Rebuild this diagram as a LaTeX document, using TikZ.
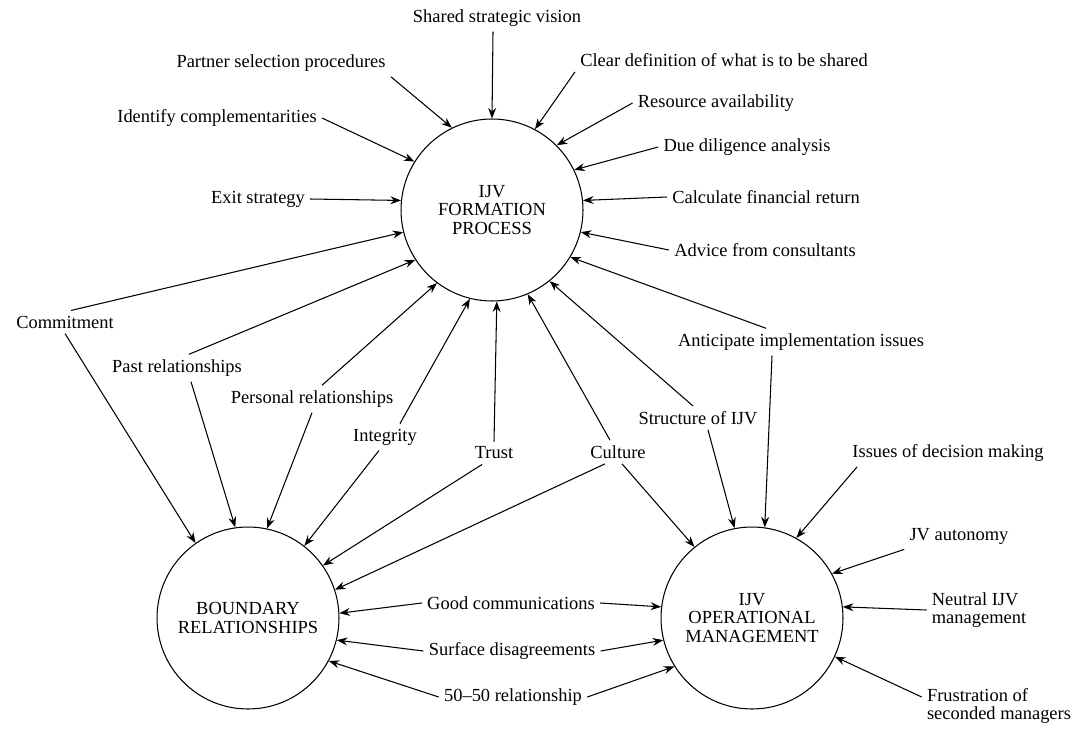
\documentclass[tikz,border=0pt]{standalone}
\usepackage{fontspec}
\setmainfont{Liberation Serif}
\usetikzlibrary{arrows.meta}
\tikzset{
    hub/.style={circle, draw, line width=0.6pt, minimum size=3.64cm, inner sep=0pt, align=center}, % the three circles
    lbl/.style={inner sep=0.1cm, align=left}, % factor labels
    arr/.style={-{Stealth[length=6pt, width=4.5pt]}, line width=0.6pt}
}

\begin{document}
\begin{tikzpicture}[x=0.02cm, y=-0.02cm, font=\fontsize{10.5}{10.6}\selectfont]
    \useasboundingbox (0,0) rectangle (1077,730);

    \node[hub] (F) at (492,210) {IJV\\FORMATION\\PROCESS};
    \node[hub] (B) at (248,618) {BOUNDARY\\RELATIONSHIPS};
    \node[hub] (O) at (752,618) {IJV\\OPERATIONAL\\MANAGEMENT};

    \node[lbl] (ssv) at (497,18) {Shared strategic vision};
    \node[lbl] (psp) at (281,63) {Partner selection procedures};
    \node[lbl] (cdw) at (724,60) {Clear definition of what is to be shared};
    \node[lbl] (ra) at (716,103) {Resource availability};
    \node[lbl] (dda) at (747,147) {Due diligence analysis};
    \node[lbl] (cfr) at (766,197) {Calculate financial return};
    \node[lbl] (afc) at (765,250) {Advice from consultants};
    \node[lbl] (aii) at (801,342) {Anticipate implementation issues};
    \node[lbl] (ic) at (217,118) {Identify complementarities};
    \node[lbl] (es) at (258,199) {Exit strategy};
    \node[lbl] (com) at (65,322) {Commitment};
    \node[lbl] (past) at (177,368) {Past relationships};
    \node[lbl] (pers) at (312,399) {Personal relationships};
    \node[lbl] (integ) at (385,437) {Integrity};
    \node[lbl] (trust) at (494,453) {Trust};
    \node[lbl] (cult) at (618,452) {Culture};
    \node[lbl] (struct) at (698,418) {Structure of IJV};
    \node[lbl] (idm) at (948,453) {Issues of decision making};
    \node[lbl] (jva) at (959,536) {JV autonomy};
    \node[lbl] (nim) at (979,610) {Neutral IJV\\management};
    \node[lbl] (fsm) at (999,706) {Frustration of\\seconded managers};
    \node[lbl] (gc) at (511,603) {Good communications};
    \node[lbl] (sd) at (512,651) {Surface disagreements};
    \node[lbl] (fifty) at (513,697) {50--50 relationship};

    % start anchor / x shift / y shift / end angle
    \foreach \n/\dx/\dy/\a in {ssv.south/-0.08/0/90, psp.south east/0/0/116, cdw.south west/0/0/62,
        ra.west/0/0/45, dda.west/0/0/26, cfr.west/0/0/6, afc.west/0/0/-14, aii.north/-0.7/0/-31,
        ic.east/0/0/148, es.east/0/0/174, com.north/0.12/0/194, past.north/0.24/0/213,
        pers.north/0.2/0/233, integ.north/0.3/0/256, trust.north/0/0/273, cult.north/-0.16/0/-67,
        struct.north/-0.1/0/-51}
        {\draw[arr] ([xshift=\dx cm, yshift=\dy cm]\n) -- (F.\a);}
    \foreach \n/\dx/\dy/\a in {com.south/0/0/125, past.south/0.28/0/98, pers.south/0/0/78,
        integ.south/-0.12/0/52, trust.south/-0.24/0/35, cult.south/-0.26/0/18,
        gc.west/0/0/3, sd.west/0/0/-14, fifty.west/0/0/-28}
        {\draw[arr] ([xshift=\dx cm, yshift=\dy cm]\n) -- (B.\a);}
    \foreach \n/\dx/\dy/\a in {cult.south/0.08/0/129, struct.south/0.2/0/101, aii.south/-0.58/0/82,
        idm.south west/0.2/0/61, jva.south west/0/0/29, nim.west/0/0/7, fsm.west/0/0.18/-25,
        gc.east/0/0/173, sd.east/0/0/194, fifty.east/0/0/212}
        {\draw[arr] ([xshift=\dx cm, yshift=\dy cm]\n) -- (O.\a);}
\end{tikzpicture}
\end{document}
